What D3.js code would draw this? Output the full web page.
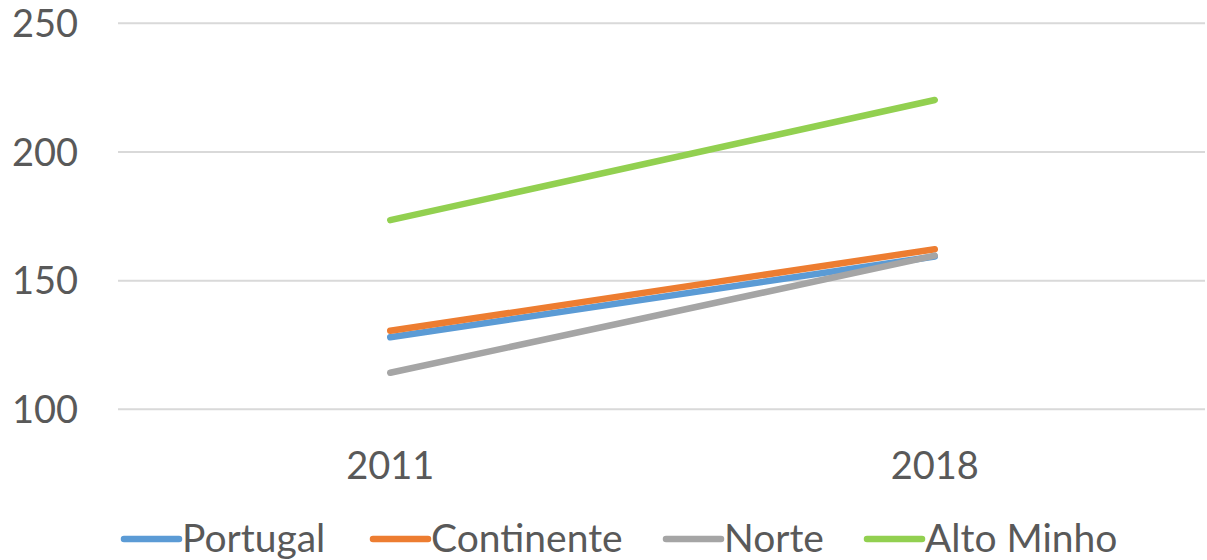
<!DOCTYPE html>
<html>
<head>
<meta charset="utf-8">
<script src="https://cdn.jsdelivr.net/npm/d3@7"></script>
<style>
  body { margin: 0; background: #fff; }
  text { font-family: Lato, "Open Sans", sans-serif; fill: #595959; }
</style>
</head>
<body>
<div id="chart"></div>
<script>
var years = ["2011", "2018"];
var seriesNames = ["Portugal", "Continente", "Norte", "Alto Minho"];
var portugal = [128, 159.4];
var continente = [130.5, 162.2];
var norte = [114.2, 159.7];
var altoMinho = [173.5, 220.2];
var yTicks = [100, 150, 200, 250];
var colors = ["#5B9BD5", "#ED7D31", "#A5A5A5", "#92D050"];

var width = 1207, height = 560;
var series = [portugal, continente, norte, altoMinho].map(function(vals, i) {
  return { name: seriesNames[i], color: colors[i], values: vals };
});

var svg = d3.select("#chart").append("svg")
  .attr("width", width)
  .attr("height", height);

var x = d3.scalePoint()
  .domain(years)
  .range([118, 1207])
  .padding(0.5);

var y = d3.scaleLinear()
  .domain([100, 250])
  .range([409.3, 23.3]);

// gridlines
svg.append("g")
  .selectAll("line")
  .data(yTicks)
  .enter()
  .append("line")
  .attr("x1", 118)
  .attr("x2", 1205)
  .attr("y1", d => y(d))
  .attr("y2", d => y(d))
  .attr("stroke", "#d9d9d9")
  .attr("stroke-width", 2);

// y labels
svg.append("g")
  .selectAll("text")
  .data(yTicks)
  .enter()
  .append("text")
  .attr("x", 78)
  .attr("y", d => y(d))
  .attr("dy", "0.36em")
  .attr("text-anchor", "end")
  .attr("font-size", 38)
  .text(d => d);

// x labels
svg.append("g")
  .selectAll("text")
  .data(years)
  .enter()
  .append("text")
  .attr("x", d => x(d))
  .attr("y", 465)
  .attr("dy", "0.36em")
  .attr("text-anchor", "middle")
  .attr("font-size", 38)
  .text(d => d);

var line = d3.line()
  .x((d, i) => x(years[i]))
  .y(d => y(d));

svg.append("g")
  .selectAll("path")
  .data(series)
  .enter()
  .append("path")
  .attr("d", d => line(d.values))
  .attr("fill", "none")
  .attr("stroke", d => d.color)
  .attr("stroke-width", 6.5)
  .attr("stroke-linecap", "round");

// legend
var legendX = [124, 373, 666, 867];
var legend = svg.append("g")
  .selectAll("g")
  .data(series)
  .enter()
  .append("g")
  .attr("transform", (d, i) => "translate(" + legendX[i] + ",539)");

legend.append("line")
  .attr("x1", 0)
  .attr("x2", 55)
  .attr("stroke", d => d.color)
  .attr("stroke-width", 6.5)
  .attr("stroke-linecap", "round");

legend.append("text")
  .attr("x", 58)
  .attr("y", -1)
  .attr("dy", "0.36em")
  .attr("font-size", 39)
  .text(d => d.name);
</script>
</body>
</html>
